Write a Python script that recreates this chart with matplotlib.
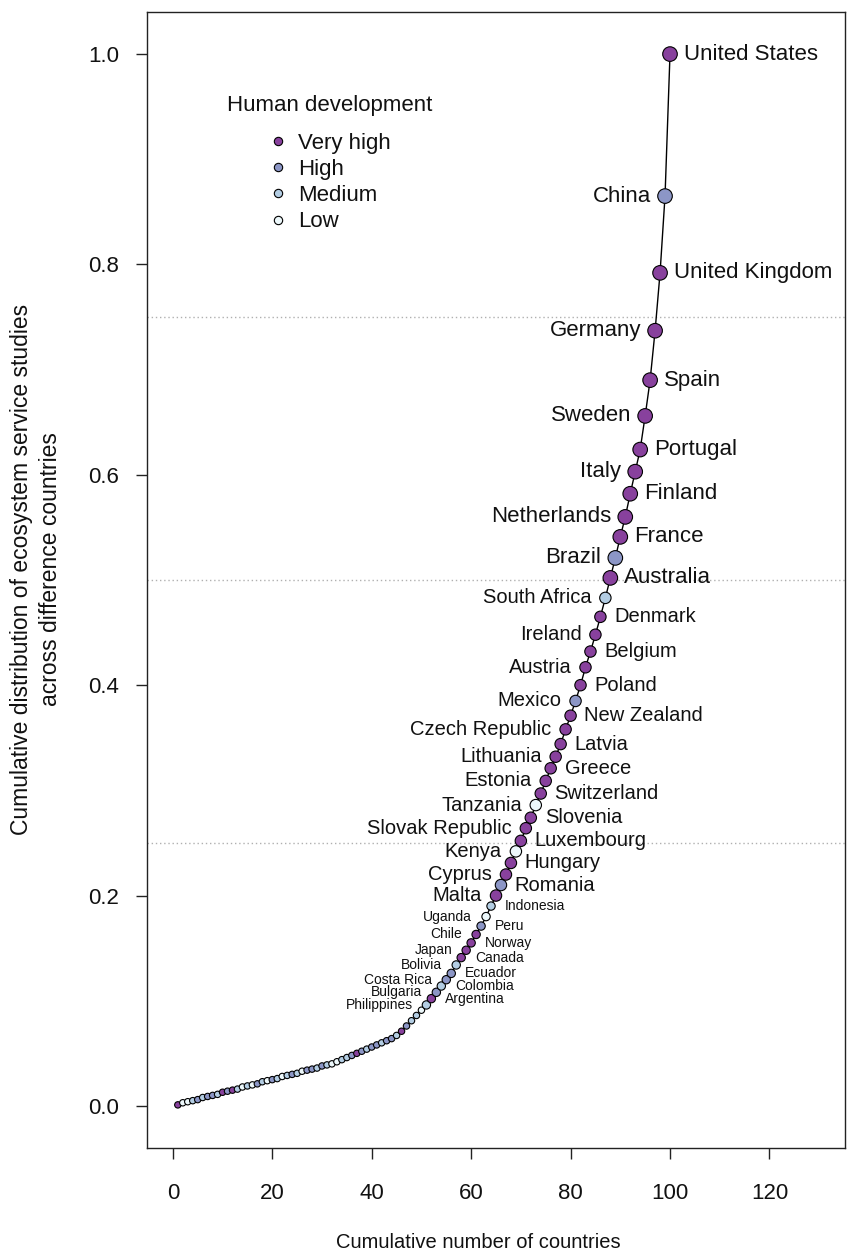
import numpy as np
import matplotlib.pyplot as plt
from matplotlib.lines import Line2D

plt.rcParams['font.family'] = ['Liberation Sans', 'DejaVu Sans']

# cumulative share of studies, countries ranked 1..100
cum_share = [
    0.001, 0.003, 0.004, 0.005, 0.006, 0.008, 0.009, 0.010, 0.011, 0.013,
    0.014, 0.015, 0.016, 0.018, 0.019, 0.020, 0.021, 0.023, 0.024, 0.025,
    0.026, 0.028, 0.029, 0.030, 0.031, 0.033, 0.034, 0.035, 0.036, 0.038,
    0.039, 0.040, 0.042, 0.044, 0.046, 0.048, 0.050, 0.052, 0.054, 0.056,
    0.058, 0.060, 0.062, 0.064, 0.067, 0.071, 0.076, 0.081, 0.086, 0.091,
    0.096, 0.102, 0.108, 0.114, 0.120, 0.126, 0.134, 0.141, 0.148, 0.155,
    0.163, 0.171, 0.180, 0.190, 0.200, 0.210, 0.220, 0.231, 0.242, 0.252,
    0.264, 0.274, 0.286, 0.297, 0.309, 0.321, 0.332, 0.344, 0.358, 0.371,
    0.385, 0.400, 0.417, 0.432, 0.448, 0.465, 0.483, 0.502, 0.521, 0.541,
    0.560, 0.582, 0.603, 0.624, 0.656, 0.690, 0.737, 0.792, 0.865, 1.000,
]

# human development class: V very high, H high, M medium, L low
hdi = list(
    "VLLMHMHHMV" "HVMLMLHMLH" "MLMHMLHHMH" "MLLMMHVHMH" "HMHHMVHMML"
    "MVHMHHMVVV" "VHLMVHVVLV" "VVLVVVVVVV" "HVVVVVMVHV" "VVVVVVVVHV"
)

# labelled countries, ranks 51..100
labelled = [
    "Philippines", "Argentina", "Bulgaria", "Colombia", "Costa Rica",
    "Ecuador", "Bolivia", "Canada", "Japan", "Norway",
    "Chile", "Peru", "Uganda", "Indonesia", "Malta",
    "Romania", "Cyprus", "Hungary", "Kenya", "Luxembourg",
    "Slovak Republic", "Slovenia", "Tanzania", "Switzerland", "Estonia",
    "Greece", "Lithuania", "Latvia", "Czech Republic", "New Zealand",
    "Mexico", "Poland", "Austria", "Belgium", "Ireland",
    "Denmark", "South Africa", "Australia", "Brazil", "France",
    "Netherlands", "Finland", "Italy", "Portugal", "Sweden",
    "Spain", "Germany", "United Kingdom", "China", "United States",
]

classes = ["Very high", "High", "Medium", "Low"]
class_colors = {"V": "#88419d", "H": "#8c96c6", "M": "#b3cde3", "L": "#edf8fb"}

rank = np.arange(1, len(cum_share) + 1)
first_label = len(cum_share) - len(labelled) + 1


def tier(r):
    # marker diameter (pt) and label size (pt) by rank
    if r >= 88:
        return 10.5, 16
    if r >= 65:
        return 8.2, 14.5
    if r >= 51:
        return 6.0, 10
    return 4.6, None


fig = plt.figure(figsize=(8.47, 12.53), dpi=100)
ax = fig.add_axes([147 / 847, 1 - 1148 / 1253, 698 / 847, 1136 / 1253])

for h in [0.25, 0.5, 0.75]:
    ax.axhline(h, color='#b0b0b0', lw=1, ls=(0, (1, 2)), zorder=1)

ax.plot(rank, cum_share, color='black', lw=1.0, zorder=2)

sizes = [tier(r)[0] ** 2 for r in rank]
cols = [class_colors[c] for c in hdi]
ax.scatter(rank, cum_share, s=sizes, c=cols, edgecolors='black',
           linewidths=0.8, zorder=3)

for i, name in enumerate(labelled):
    r = first_label + i
    fs = tier(r)[1]
    right = (len(cum_share) - r) % 2 == 0
    ax.annotate(name, (r, cum_share[r - 1]),
                xytext=(10 if right else -10, 0), textcoords='offset points',
                ha='left' if right else 'right', va='center', fontsize=fs,
                color='#111111')

ax.set_xlim(-5.2, 135.2)
ax.set_ylim(-0.04, 1.04)
ax.set_xticks(np.arange(0, 121, 20))
ax.set_yticks(np.arange(0, 1.01, 0.2))
ax.set_yticklabels([f"{v:.1f}" for v in np.arange(0, 1.01, 0.2)])
ax.tick_params(axis='both', direction='out', length=8, width=1,
               labelsize=16, color='#222222', labelcolor='#111111')
ax.tick_params(axis='x', pad=17)
ax.tick_params(axis='y', pad=12)
for sp in ax.spines.values():
    sp.set_linewidth(1.0)
    sp.set_color('#222222')

ax.set_xlabel("Cumulative number of countries", fontsize=14.5, color='#111111')
ax.xaxis.set_label_coords((478 - 147) / 698, (1148 - 1243) / 1136)
ax.xaxis.label.set_va('center')
ax.set_ylabel("Cumulative distribution of ecosystem service studies\n"
              "across difference countries", fontsize=16.5, color='#111111',
              linespacing=1.3)
ax.yaxis.set_label_coords((36 - 147) / 698, (1148 - 569) / 1136)
ax.yaxis.label.set_va('center')

handles = [Line2D([], [], marker='o', ls='none', ms=6, mfc=class_colors[k],
                  mec='black', mew=0.8) for k in "VHML"]
ax.legend(handles, classes, loc='upper left', frameon=False, fontsize=16,
          bbox_to_anchor=((269 - 147) / 698, (1148 - 133) / 1136),
          borderaxespad=0, borderpad=0, handlelength=0.8, handletextpad=0.5,
          labelspacing=0.23, labelcolor='#111111')
ax.text((330 - 147) / 698, (1148 - 105) / 1136, "Human development",
        transform=ax.transAxes, ha='center', va='center', fontsize=16,
        color='#111111')

plt.savefig('out.png', dpi=100)
